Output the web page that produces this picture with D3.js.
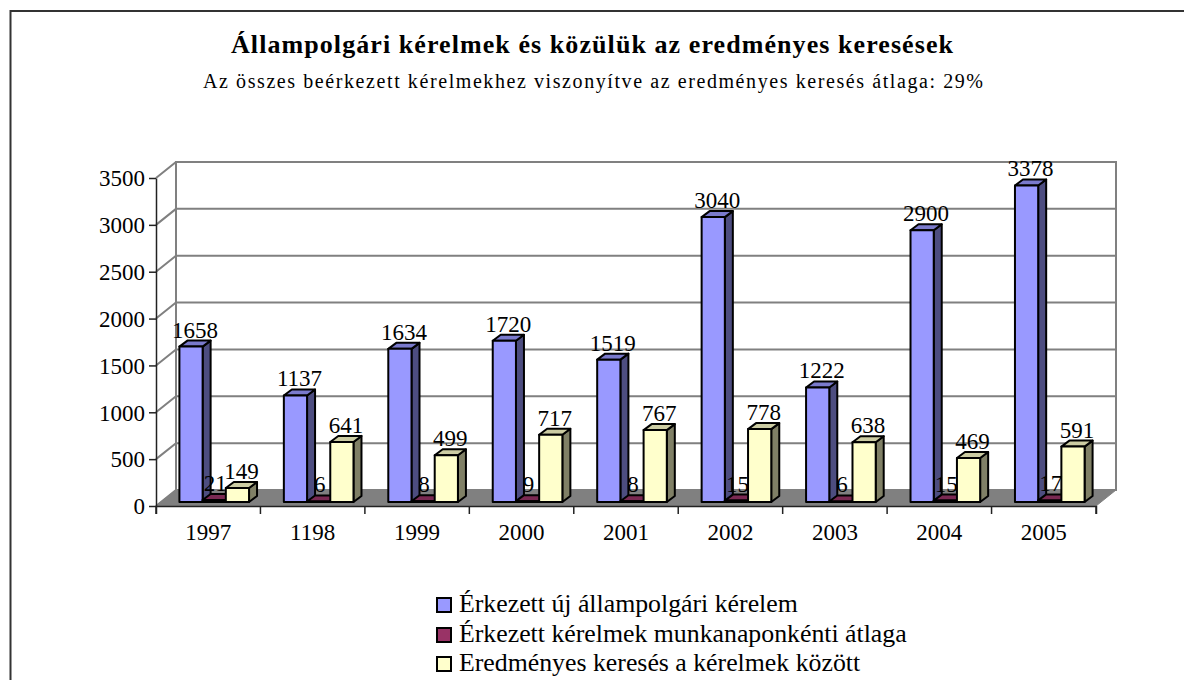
<!DOCTYPE html>
<html>
<head>
<meta charset="utf-8">
<script src="https://cdn.jsdelivr.net/npm/d3@7"></script>
<style>
  body { margin: 0; background: #fff; }
  text { font-family: "Liberation Serif", serif; fill: #000; }
</style>
</head>
<body>
<div id="chart"></div>
<script>
const years = ["1997", "1198", "1999", "2000", "2001", "2002", "2003", "2004", "2005"];
const seriesNames = [
  "Érkezett új állampolgári kérelem",
  "Érkezett kérelmek munkanaponkénti átlaga",
  "Eredményes keresés a kérelmek között"
];
const newRequests = [1658, 1137, 1634, 1720, 1519, 3040, 1222, 2900, 3378];
const dailyAverage = [21, 6, 8, 9, 8, 15, 6, 15, 17];
const successful = [149, 641, 499, 717, 767, 778, 638, 469, 591];
const yTicks = [0, 500, 1000, 1500, 2000, 2500, 3000, 3500];
const allSeries = [newRequests, dailyAverage, successful];

const colors = [
  { front: "#9999ff", top: "#7a7acc", side: "#4d4d80" },
  { front: "#993366", top: "#7a2952", side: "#4d1a33" },
  { front: "#ffffcc", top: "#ccccA3", side: "#808066" }
];

const width = 1184, height = 680;
const svg = d3.select("#chart").append("svg")
    .attr("width", width).attr("height", height)
    .style("display", "block");

// frame runs off the bottom and right of the page
svg.append("path")
    .attr("d", "M10.5,680V11H1184")
    .attr("fill", "none").attr("stroke", "#333").attr("stroke-width", 2);

const titleG = svg.append("g").attr("text-anchor", "middle");
titleG.append("text").attr("x", 592).attr("y", 53)
    .attr("font-size", 26).attr("font-weight", "bold")
    .attr("textLength", 722)
    .text("Állampolgári kérelmek és közülük az eredményes keresések");
titleG.append("text").attr("x", 593).attr("y", 88)
    .attr("font-size", 20)
    .attr("textLength", 780)
    .text("Az összes beérkezett kérelmekhez viszonyítve az eredményes keresés átlaga: 29%");

const x = d3.scaleBand().domain(years).range([156, 1096]);
const y = d3.scaleLinear().domain([0, 3500]).range([506, 178]);
const group = d3.scaleBand().domain([0, 1, 2]).range([0, x.bandwidth()]).paddingOuter(0.75).paddingInner(0);

// 3d offsets
const wallDx = 20, wallDy = -16;
const barInX = 6, barInY = -4;
const barDx = 8, barDy = -6;

const gray = "#808080";
const wall = svg.append("g").attr("fill", "none").attr("stroke", gray).attr("stroke-width", 2);
wall.append("rect")
    .attr("x", x.range()[0] + wallDx).attr("y", y(3500) + wallDy)
    .attr("width", x.range()[1] - x.range()[0]).attr("height", y(0) - y(3500));
wall.selectAll("path.grid")
    .data(yTicks)
    .join("path")
    .attr("class", "grid")
    .attr("d", d => `M${x.range()[0]},${y(d)}L${x.range()[0] + wallDx},${y(d) + wallDy}H${x.range()[1] + wallDx}`);

svg.append("path")
    .attr("d", `M${x.range()[0]},${y(0)}L${x.range()[0] + wallDx},${y(0) + wallDy}H${x.range()[1] + wallDx}L${x.range()[1]},${y(0)}Z`)
    .attr("fill", gray).attr("stroke", gray);

const yAxis = svg.append("g")
    .attr("transform", `translate(${x.range()[0]},0)`)
    .call(d3.axisLeft(y).tickValues(yTicks).tickSize(7).tickSizeOuter(0).tickFormat(d3.format("d")));
const xAxis = svg.append("g")
    .attr("transform", `translate(0,${y(0)})`)
    .call(d3.axisBottom(x).tickValues([]).tickSizeOuter(8));
xAxis.selectAll("line.sep")
    .data(d3.range(years.length + 1))
    .join("line")
    .attr("class", "sep")
    .attr("x1", i => x.range()[0] + i * x.step())
    .attr("x2", i => x.range()[0] + i * x.step())
    .attr("y2", 8).attr("stroke", "#000");
xAxis.selectAll("text.cat")
    .data(years)
    .join("text")
    .attr("class", "cat")
    .attr("x", d => x(d) + x.bandwidth() / 2)
    .attr("y", 34)
    .attr("text-anchor", "middle")
    .attr("font-size", 23)
    .text(d => d);
yAxis.selectAll(".tick text").attr("font-size", 23)
    .style("font-family", '"Liberation Serif", serif').attr("dy", "0.34em").attr("x", -11);
yAxis.selectAll("path,line").attr("stroke", "#222").attr("stroke-width", 1.5);
xAxis.selectAll("path,line").attr("stroke", "#222").attr("stroke-width", 1.5);

const bars = [];
years.forEach((yr, i) => allSeries.forEach((vals, s) => bars.push({ yr, s, v: vals[i] })));

const barG = svg.append("g").attr("stroke", "#000").attr("stroke-width", 2).attr("stroke-linejoin", "round");
const barW = group.bandwidth();
const bx = d => x(d.yr) + group(d.s) + barInX;
const by = d => y(d.v) + barInY;
const base = y(0) + barInY;

const bar = barG.selectAll("g").data(bars).join("g");
bar.append("path").attr("fill", d => colors[d.s].side)
    .attr("d", d => `M${bx(d) + barW},${by(d)}l${barDx},${barDy}V${base + barDy}l${-barDx},${-barDy}Z`);
bar.append("path").attr("fill", d => colors[d.s].top)
    .attr("d", d => `M${bx(d)},${by(d)}l${barDx},${barDy}h${barW}l${-barDx},${-barDy}Z`);
bar.append("rect").attr("fill", d => colors[d.s].front)
    .attr("x", bx).attr("y", by).attr("width", barW).attr("height", d => base - by(d));

svg.append("g").selectAll("text").data(bars).join("text")
    .attr("x", d => bx(d) + barW / 2 + barDx / 2 - (d.s === 1 ? 3 : 0))
    .attr("y", d => by(d) - 9)
    .attr("text-anchor", "middle")
    .attr("font-size", 23)
    .text(d => d.v);

const legend = svg.append("g").selectAll("g").data(seriesNames).join("g")
    .attr("transform", (d, i) => `translate(437,${[612, 642, 671][i]})`);
legend.append("rect").attr("y", -14).attr("width", 14).attr("height", 14)
    .attr("fill", (d, i) => colors[i].front).attr("stroke", "#000").attr("stroke-width", 2);
legend.append("text").attr("x", 22).attr("font-size", 25.8)
    .text(d => d);
</script>
</body>
</html>
